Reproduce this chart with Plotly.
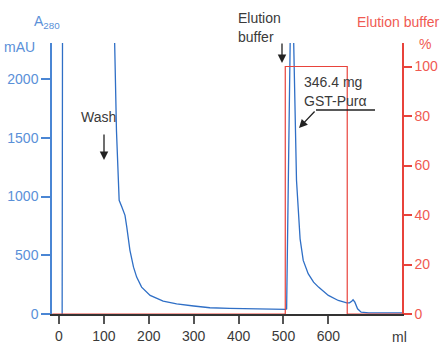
import plotly.graph_objects as go

# A280 trace (ml, mAU); off-scale peaks estimated above the visible range
volume_ml = [7, 8, 122, 124, 128, 132, 134, 140, 147, 151, 158, 166, 173, 184, 203, 232, 262, 300, 336,
             380, 425, 470, 505, 507, 518, 529, 533, 537, 544, 555, 567, 578, 600, 622, 641, 647, 652,
             655, 659, 665, 673, 690, 764]
a280_mau = [0, 3000, 3000, 2300, 1560, 1139, 968, 911, 840, 740, 542, 399, 314, 229, 158, 109, 87, 68, 53,
            48, 44, 41, 39, 44, 3200, 1139, 857, 640, 456, 343, 271, 229, 158, 115, 95, 95, 109,
            121, 101, 44, 15, 10, 10]

# Elution buffer step (ml, %)
buffer_ml = [-15, 504, 504, 642, 642, 764]
buffer_pct = [0, 0, 100, 100, 0, 0]

x_ticks = [0, 100, 200, 300, 400, 500, 600]
left_ticks = [0, 500, 1000, 1500, 2000]
right_ticks = [0, 20, 40, 60, 80, 100]

BLUE = "#2f6fc6"
BLUE_AX = "#4a86d4"
BLUE_TXT = "#5a90d8"
RED = "#e8433b"
RED_TXT = "#f05a52"
DARK = "#3a3a3a"
FONT = "Liberation Sans"

L, R, T, B = 52, 402, 43, 314
W, H = 443, 344


def px(x):
    return (x - L) / (R - L)


def py(y):
    return (B - y) / (B - T)


fig = go.Figure()
fig.add_trace(go.Scatter(x=buffer_ml, y=buffer_pct, mode="lines", yaxis="y2",
                         line=dict(color=RED, width=1.2), hoverinfo="skip"))
fig.add_trace(go.Scatter(x=volume_ml, y=a280_mau, mode="lines",
                         line=dict(color=BLUE, width=1.3), hoverinfo="skip"))

fig.update_layout(
    width=W, height=H,
    margin=dict(l=L, r=W - R, t=T, b=H - B, autoexpand=False),
    paper_bgcolor="white", plot_bgcolor="white",
    showlegend=False,
    font=dict(family=FONT, size=14, color=DARK),
    xaxis=dict(range=[-15.6, 764], tickvals=x_ticks, showgrid=False, zeroline=False, automargin=False,
               showline=True, linecolor="#333333", linewidth=1.5,
               ticks="outside", ticklen=8, tickcolor="#555555", tickwidth=1.5,
               tickfont=dict(size=14, color=DARK, family=FONT)),
    yaxis=dict(range=[0, 2307], tickvals=left_ticks, showgrid=False, zeroline=False, automargin=False,
               showline=True, linecolor=BLUE_AX, linewidth=1.5,
               ticks="outside", ticklen=9, tickcolor=BLUE_AX, tickwidth=1.5,
               tickfont=dict(size=14, color=BLUE_TXT, family=FONT)),
    yaxis2=dict(range=[0, 109.5], tickvals=right_ticks, overlaying="y", side="right",
                showgrid=False, zeroline=False, automargin=False,
                showline=True, linecolor=RED, linewidth=1.5,
                ticks="outside", ticklen=8, tickcolor=RED, tickwidth=1.5,
                tickfont=dict(size=14, color=RED_TXT, family=FONT)),
)

ann = []


def text(x, y, s, color=DARK, size=14, xanchor="left"):
    ann.append(dict(x=px(x), y=py(y), xref="paper", yref="paper", text=s, showarrow=False,
                    xanchor=xanchor, yanchor="middle", align="left",
                    font=dict(family=FONT, size=size, color=color)))


def arrow(tx, ty, sx, sy):
    ann.append(dict(x=px(tx), y=py(ty), xref="paper", yref="paper", text="",
                    showarrow=True, ax=sx - tx, ay=sy - ty, axref="pixel", ayref="pixel",
                    arrowhead=2, arrowsize=1.3, arrowwidth=1.3, arrowcolor="#222222"))


text(32, 22, "A<sub>280</sub>", BLUE_TXT, 14)
text(2, 47, "mAU", BLUE_TXT, 14)
text(79, 117, "Wash")
arrow(104, 160, 104, 133)
text(236, 18, "Elution")
text(236, 37, "buffer")
arrow(282, 63, 282, 42)
text(442, 22, "Elution buffer", RED_TXT, 14, xanchor="right")
text(417, 44, "%", RED_TXT, 14)
text(302, 82, "346.4 mg")
text(302, 101, "GST-Purα")
arrow(299, 128, 316, 110)
text(390, 337, "ml")

fig.update_layout(annotations=ann)
fig.add_shape(type="line", xref="paper", yref="paper", x0=px(316), x1=px(375), y0=py(110), y1=py(110),
              line=dict(color="#222222", width=1.3))

fig.write_html("out.html", config={"displayModeBar": False},
               post_script="document.body.style.margin='0';document.body.style.padding='0';"
                           "document.body.style.overflow='hidden';")
